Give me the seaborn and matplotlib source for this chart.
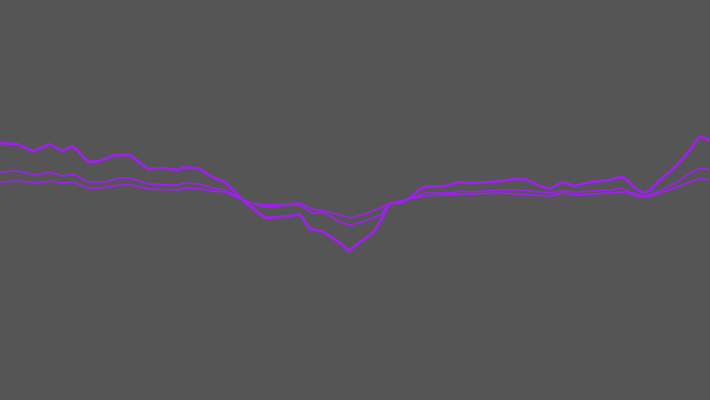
import pandas as pd
import matplotlib
matplotlib.use("Agg")
import matplotlib.pyplot as plt
import seaborn as sns

# x positions along the track (0-710) and level of each series (0 = baseline)
x_top = [0, 17, 33, 50, 62, 73, 88, 100, 115, 130, 148, 165, 177, 185, 200, 212, 225, 245,
         265, 290, 300, 310, 322, 340, 349, 360, 370, 375, 380, 385, 390, 400, 410, 420, 425,
         445, 460, 470, 490, 500, 515, 525, 540, 550, 562, 575, 590, 610, 620, 625, 635, 643,
         650, 660, 675, 690, 698, 703, 710]
top = [54, 53, 46, 53, 46, 51, 35, 36, 42, 42, 28, 29, 27, 30, 28, 20, 15, -5,
       -21, -19, -17, -32, -34, -46, -54, -45, -38, -33, -25, -15, -6, -6, -1, 8, 10,
       11, 15, 14, 15, 16, 18, 18, 11, 8, 15, 11, 15, 17, 20, 19, 9, 4,
       7, 17, 30, 47, 59, 60, 56]

x_mid = [0, 17, 37, 50, 63, 73, 88, 105, 120, 130, 148, 177, 185, 200, 212, 225, 250,
         265, 290, 300, 312, 325, 340, 350, 365, 380, 390, 410, 425, 450, 460, 470,
         500, 520, 550, 562, 575, 610, 620, 630, 643, 655, 675, 690, 700, 710]
mid = [25, 26, 22, 25, 21, 23, 15, 15, 19, 19, 13, 12, 14, 13, 9, 7, -6,
       -10, -8, -8, -16, -16, -25, -28, -24, -18, -6, -2, 4, 4, 6, 5,
       7, 7, 4, 6, 5, 7, 9, 5, 1, 4, 14, 24, 29, 27]

x_low = [0, 20, 37, 50, 63, 73, 88, 100, 120, 127, 148, 177, 185, 200, 212, 225, 250,
         265, 300, 312, 325, 340, 350, 365, 380, 390, 410, 425, 460, 470,
         500, 550, 562, 575, 610, 625, 640, 650, 675, 690, 700, 710]
low = [15, 16, 14, 16, 14, 15, 9, 9, 12, 13, 8, 7, 9, 8, 6, 5, -6,
       -8, -6, -12, -14, -18, -21, -17, -11, -6, -2, 1, 3, 3,
       4, 1, 4, 2, 4, 5, 0, 1, 9, 15, 19, 17]

df = pd.concat([
    pd.DataFrame({"x": x_top, "level": top, "series": "a"}),
    pd.DataFrame({"x": x_mid, "level": mid, "series": "b"}),
    pd.DataFrame({"x": x_low, "level": low, "series": "c"}),
])

sns.set_style("dark", {"axes.facecolor": "#555555", "figure.facecolor": "#555555"})
fig = plt.figure(figsize=(7.1, 4.0), dpi=100)
ax = fig.add_axes([0, 0, 1, 1])
sns.lineplot(data=df, x="x", y="level", hue="series", size="series",
             palette=["#a01ff0"] * 3, sizes={"a": 1.9, "b": 1.2, "c": 1.2},
             legend=False, ax=ax, sort=False)
ax.set_xlim(0, 710)
ax.set_ylim(-203, 197)
ax.axis("off")
fig.savefig("out.png", dpi=100, facecolor="#555555")
